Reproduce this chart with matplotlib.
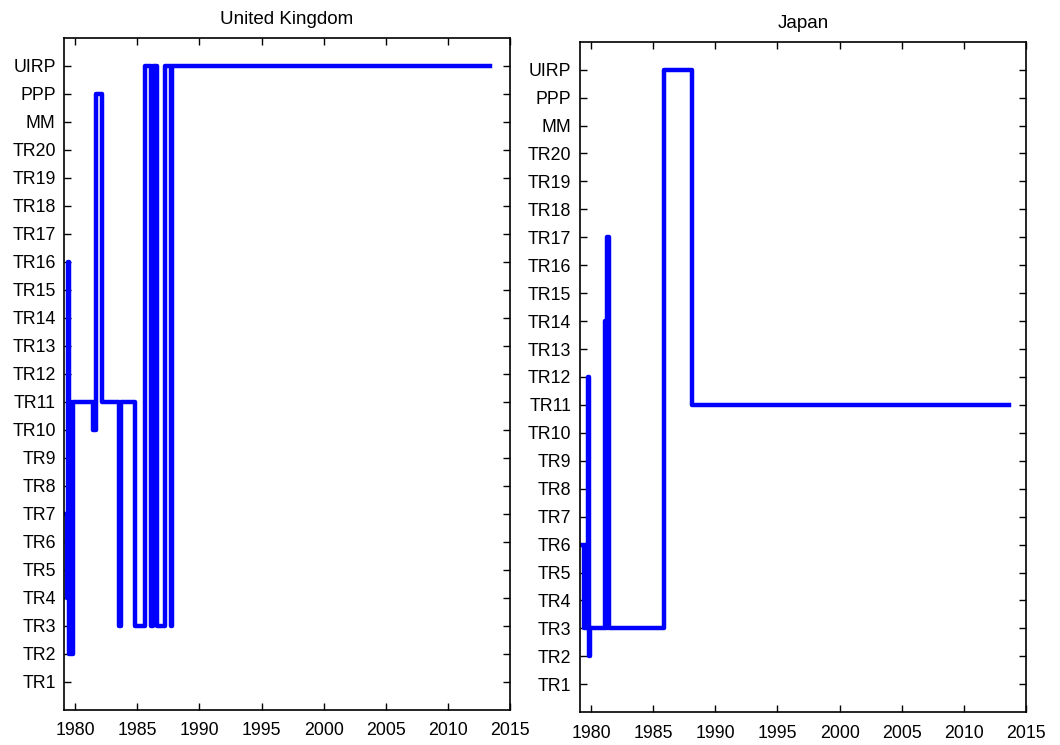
import matplotlib.pyplot as plt

# model labels on the y axis (1 = TR1 ... 23 = UIRP)
labels = ['TR%d' % i for i in range(1, 21)] + ['MM', 'PPP', 'UIRP']
years = [1980, 1985, 1990, 1995, 2000, 2005, 2010, 2015]

# United Kingdom: dates where the selected model changes, and the model index
uk_dates = [1979.25, 1979.30, 1979.42, 1979.50, 1979.62, 1979.70, 1979.83,
            1981.43, 1981.70, 1982.19, 1983.55, 1983.65, 1984.85, 1985.60,
            1986.08, 1986.25, 1986.58, 1987.25, 1987.67, 1987.83, 2013.40]
uk_model = [7, 4, 16, 2, 11, 2, 11,
            10, 22, 11, 3, 11, 3, 23,
            3, 23, 3, 23, 3, 23, 23]

# Japan
jp_dates = [1979.25, 1979.40, 1979.48, 1979.56, 1979.75, 1979.85, 1979.95,
            1981.10, 1981.18, 1981.28, 1981.42, 1985.85, 1988.10, 2013.60]
jp_model = [6, 3, 6, 3, 12, 2, 3,
            14, 3, 17, 3, 23, 11, 11]

plt.rcParams['font.family'] = ['Liberation Sans', 'DejaVu Sans']

fig = plt.figure(figsize=(10.6, 7.45), dpi=100)
ax1 = fig.add_axes([0.0604, 0.047, 0.4208, 0.902])
ax2 = fig.add_axes([0.547, 0.044, 0.421, 0.900])

for ax, dates, model, title in [(ax1, uk_dates, uk_model, 'United Kingdom'),
                                (ax2, jp_dates, jp_model, 'Japan')]:
    ax.step(dates, model, where='post', color='#0000ff', linewidth=3.2)
    ax.set_xlim(1979.1, 2015)
    ax.set_ylim(0, 24)
    ax.set_xticks(years)
    ax.set_yticks(range(1, 24))
    ax.set_yticklabels(labels)
    ax.tick_params(direction='in', top=True, right=True, length=5, width=1,
                   labelsize=12.8)
    ax.tick_params(axis='y', pad=6)
    ax.tick_params(axis='x', pad=9)
    for s in ax.spines.values():
        s.set_linewidth(1.2)
    ax.set_title(title, fontsize=13.5, pad=10)

plt.savefig('out.png', dpi=100)
